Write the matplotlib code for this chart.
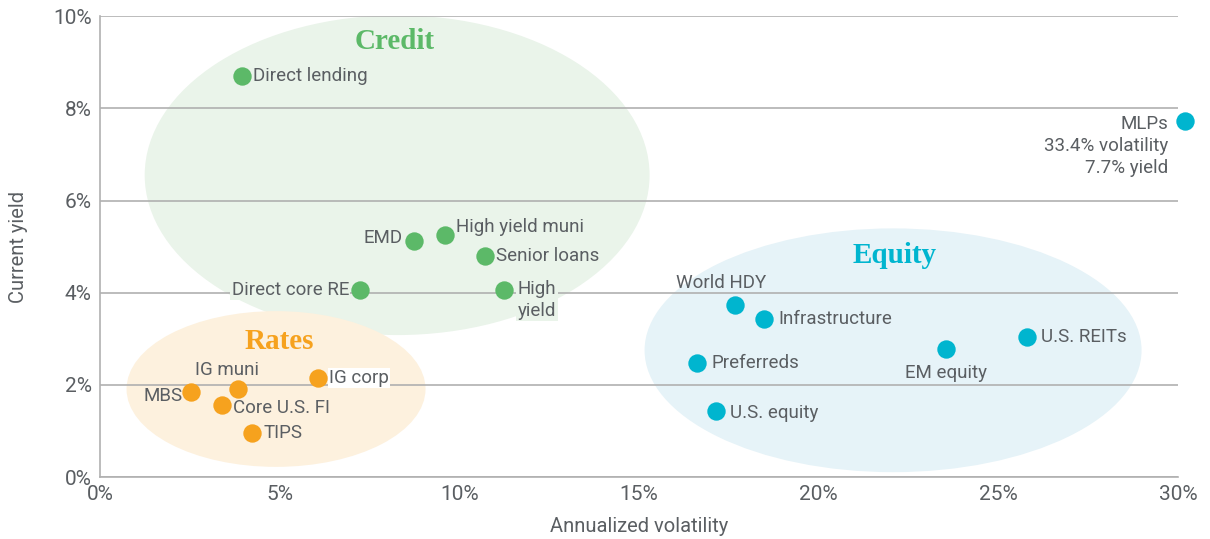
import matplotlib
matplotlib.use("Agg")
import matplotlib.pyplot as plt
from matplotlib.patches import Ellipse
from matplotlib.ticker import FuncFormatter

plt.rcParams['font.family'] = ['Liberation Sans Narrow', 'Roboto', 'DejaVu Sans']

# volatility (%), yield (%)
credit_names = ["Direct lending", "EMD", "High yield muni", "Senior loans", "Direct core RE", "High\nyield"]
credit_vol = [3.95, 8.74, 9.60, 10.72, 7.24, 11.24]
credit_yld = [8.70, 5.12, 5.25, 4.79, 4.06, 4.06]

rates_names = ["MBS", "IG muni", "IG corp", "Core U.S. FI", "TIPS"]
rates_vol = [2.53, 3.84, 6.07, 3.40, 4.23]
rates_yld = [1.84, 1.91, 2.15, 1.56, 0.95]

equity_names = ["World HDY", "Infrastructure", "Preferreds", "U.S. equity", "EM equity", "U.S. REITs",
                "MLPs\n33.4% volatility\n7.7% yield"]
equity_vol = [17.67, 18.48, 16.62, 17.14, 23.55, 25.80, 30.2]
equity_yld = [3.73, 3.43, 2.47, 1.43, 2.78, 3.04, 7.72]

green, orange, cyan = "#5cb968", "#f6a21e", "#00b5cf"
green_bg, orange_bg, cyan_bg = "#eaf4ea", "#fdf1de", "#e6f3f8"
txt = "#5a5e62"

fig = plt.figure(figsize=(12.1, 5.39), dpi=100)
ax = fig.add_axes([0.0826, 0.115, 0.891, 0.855])
ax.set_xlim(0, 30)
ax.set_ylim(0, 10)

# group clouds
ax.add_patch(Ellipse((8.27, 6.55), 14.05, 6.94, facecolor=green_bg, edgecolor="none", zorder=0))
ax.add_patch(Ellipse((4.90, 1.91), 8.32, 3.38, facecolor=orange_bg, edgecolor="none", zorder=0))
ax.add_patch(Ellipse((22.07, 2.75), 13.83, 5.29, facecolor=cyan_bg, edgecolor="none", zorder=0))

ax.set_yticks(range(0, 11, 2))
ax.set_xticks(range(0, 31, 5))
ax.yaxis.set_major_formatter(FuncFormatter(lambda v, p: f"{v:.0f}%"))
ax.xaxis.set_major_formatter(FuncFormatter(lambda v, p: f"{v:.0f}%"))
ax.grid(axis="y", color="#b0b0b0", linewidth=1.2, zorder=1)
ax.set_axisbelow(False)
for s in ["top", "right"]:
    ax.spines[s].set_visible(False)
for s in ["left", "bottom"]:
    ax.spines[s].set_color("#b0b0b0")
    ax.spines[s].set_linewidth(1.2)
ax.tick_params(length=0, labelsize=15, labelcolor=txt, pad=6)
ax.set_xlabel("Annualized volatility", fontsize=14.5, color=txt, labelpad=9)
ax.set_ylabel("Current yield", fontsize=14.5, color=txt, labelpad=18)

ax.scatter(credit_vol, credit_yld, s=175, color=green, zorder=3, linewidths=0)
ax.scatter(rates_vol, rates_yld, s=175, color=orange, zorder=3, linewidths=0)
ax.scatter(equity_vol, equity_yld, s=175, color=cyan, zorder=3, linewidths=0, clip_on=False)

# label offsets in points: (dx, dy, ha, va, background)
credit_pos = [(8, 0, "left", "center", None), (-8, 2, "right", "center", None),
              (8, 6, "left", "center", None), (8, 0, "left", "center", None),
              (-8, 0, "right", "center", green_bg), (10, -7, "left", "center", green_bg)]
rates_pos = [(-6, -3, "right", "center", None), (-8, 14, "center", "center", None),
             (8, 0, "left", "center", "white"), (8, -2, "left", "center", None),
             (8, 0, "left", "center", None)]
equity_pos = [(-10, 16, "center", "center", None), (10, 0, "left", "center", None),
              (10, 0, "left", "center", None), (10, -1, "left", "center", None),
              (0, -17, "center", "center", None), (10, 0, "left", "center", None),
              (-12, -18, "right", "center", None)]

def put_labels(names, xs, ys, pos):
    for n, x, y, (dx, dy, ha, va, bg) in zip(names, xs, ys, pos):
        kw = {}
        if bg:
            kw["bbox"] = dict(facecolor=bg, edgecolor="none", pad=1)
        ax.annotate(n, (x, y), xytext=(dx, dy), textcoords="offset points", ha=ha, va=va,
                    fontsize=13.5, color=txt, zorder=4, annotation_clip=False,
                    linespacing=1.3, multialignment=ha if ha != "center" else "center", **kw)

put_labels(credit_names, credit_vol, credit_yld, credit_pos)
put_labels(rates_names, rates_vol, rates_yld, rates_pos)
put_labels(equity_names, equity_vol, equity_yld, equity_pos)

serif = ['Liberation Serif', 'DejaVu Serif']
ax.text(8.2, 9.45, "Credit", family=serif, fontweight="bold", fontsize=21, color=green, ha="center", va="center")
ax.text(5.0, 2.95, "Rates", family=serif, fontweight="bold", fontsize=21, color=orange, ha="center", va="center")
ax.text(22.1, 4.8, "Equity", family=serif, fontweight="bold", fontsize=21, color=cyan, ha="center", va="center")

fig.savefig("out.png", dpi=100)
